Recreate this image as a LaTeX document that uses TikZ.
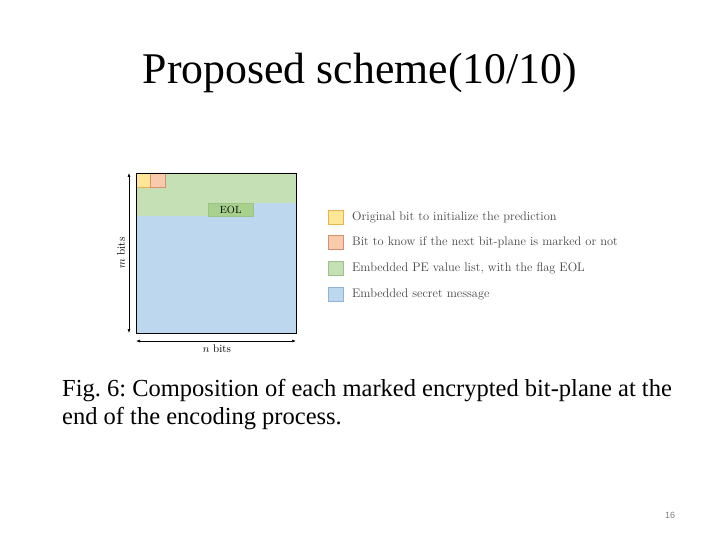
\documentclass[tikz,border=0pt]{standalone}
\usepackage{fontspec}
\setmainfont{Latin Modern Roman}
\newfontfamily\timesfont{Liberation Serif}
\newfontfamily\sansfont{Liberation Sans}
\usetikzlibrary{arrows.meta}
\definecolor{cyel}{HTML}{FFE699}
\definecolor{cyelb}{HTML}{E6B450}
\definecolor{cpink}{HTML}{F8CBAD}
\definecolor{cpinkb}{HTML}{D9906A}
\definecolor{cgreen}{HTML}{C5E0B4}
\definecolor{cgreenb}{HTML}{9DC384}
\definecolor{cgreend}{HTML}{A9D18E}
\definecolor{cblue}{HTML}{BDD7EE}
\definecolor{cblueb}{HTML}{8FB4DA}
\definecolor{legtext}{HTML}{444444}
\tikzset{
  legbox/.style={draw=#1, line width=0.6pt, minimum width=15pt, minimum height=14pt, inner sep=0pt},
  legtxt/.style={anchor=west, inner sep=0pt, text=legtext, font=\fontsize{12.4}{14}\selectfont},
  dimarrow/.style={{Latex[length=4pt,width=3pt]}-{Latex[length=4pt,width=3pt]}, line width=0.6pt},
  captxt/.style={anchor=base west, inner sep=0pt, font=\timesfont\fontsize{24.5}{28}\selectfont},
}
\begin{document}
\frenchspacing
\begin{tikzpicture}[x=1pt,y=-1pt]
\useasboundingbox (0,0) rectangle (720,540);
% title
\node[font=\timesfont\fontsize{43.8}{48}\selectfont, anchor=base] (title) at (360,84) {Proposed scheme(10/10)};
% bit-plane
\fill[cblue] (136,173) rectangle (296,333);
\fill[cgreen] (136,173) -- (296,173) -- (296,203) -- (253,203) -- (253,216) -- (136,216) -- cycle;
\node[draw=cgreenb, fill=cgreend, minimum width=45pt, minimum height=13pt, inner sep=0pt, anchor=north west, font=\fontsize{10.4}{11}\selectfont] (eol) at (208,203) {EOL};
\node[draw=cyelb, fill=cyel, minimum width=14pt, minimum height=14pt, inner sep=0pt, anchor=north west] (yb) at (136,173) {};
\node[draw=cpinkb, fill=cpink, minimum width=15pt, minimum height=14pt, inner sep=0pt, anchor=north west] (pb) at (150,173) {};
\node[draw=black, line width=0.8pt, minimum width=160pt, minimum height=160pt, inner sep=0pt, anchor=north west] (plane) at (136,173) {};
% dimension arrows
\coordinate (mt) at (129,173);
\coordinate (mb) at (129,333);
\draw[dimarrow] (mt) -- (mb);
\node[rotate=90, font=\fontsize{11}{12}\selectfont] (mlab) at (121,253) {$m$ bits};
\coordinate (nl) at (136,341);
\coordinate (nr) at (296,341);
\draw[dimarrow] (nl) -- (nr);
\node[font=\fontsize{11}{12}\selectfont] (nlab) at (217,349) {$n$ bits};
% legend
\node[legbox=cyelb, fill=cyel] (l1) at (336,217) {};
\node[legbox=cpinkb, fill=cpink] (l2) at (336,242) {};
\node[legbox=cgreenb, fill=cgreen] (l3) at (336,268) {};
\node[legbox=cblueb, fill=cblue] (l4) at (336,294) {};
\node[legtxt] (t1) at (352,217) {Original bit to initialize the prediction};
\node[legtxt] (t2) at (352,242) {Bit to know if the next bit-plane is marked or not};
\node[legtxt] (t3) at (352,268) {Embedded PE value list, with the flag EOL};
\node[legtxt] (t4) at (352,294) {Embedded secret message};
% caption
\node[captxt] (cap1) at (62,396) {Fig. 6: Composition of each marked encrypted bit-plane at the};
\node[captxt] (cap2) at (62,424) {end of the encoding process.};
% page number
\node[font=\sansfont\fontsize{9}{10}\selectfont, text=gray] (pg) at (670,515) {16};
\end{tikzpicture}
\end{document}
